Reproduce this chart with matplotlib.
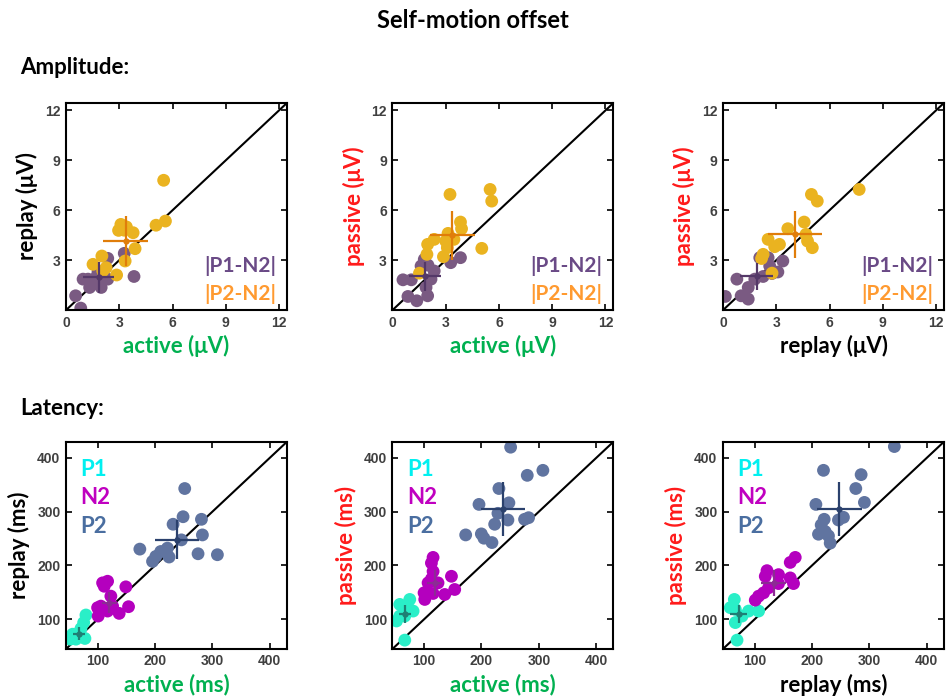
import numpy as np
import matplotlib
matplotlib.use('Agg')
import matplotlib.pyplot as plt

# amplitude offsets (uV), one pair of arrays per panel
amp_labels = [('active', 'replay'), ('active', 'passive'), ('replay', 'passive')]

amp1_p1n2_x = [2.35, 3.28, 3.83, 0.96, 1.24, 1.52, 1.70, 1.98, 1.33, 0.54, 0.83, 1.80, 2.35, 2.0]
amp1_p1n2_y = [3.11, 3.41, 2.02, 1.86, 1.86, 1.56, 1.96, 1.36, 1.36, 0.86, 0.12, 2.27, 1.86, 2.0]
amp1_p2n2_x = [5.5, 5.6, 5.07, 3.09, 2.96, 3.28, 3.78, 3.89, 3.33, 2.02, 1.52, 2.26, 2.07, 2.85, 3.4]
amp1_p2n2_y = [7.8, 5.35, 5.1, 5.15, 4.79, 4.8, 4.65, 3.69, 2.95, 3.25, 2.75, 2.55, 2.35, 2.11, 5.0]

amp2_p1n2_x = [3.83, 3.28, 1.79, 1.61, 2.35, 0.59, 1.06, 2.17, 1.89, 1.98, 0.87, 1.37, 2.0]
amp2_p1n2_y = [3.15, 2.85, 3.05, 2.65, 2.35, 1.82, 1.82, 1.86, 1.36, 0.86, 0.82, 0.56, 2.7]
amp2_p2n2_x = [3.24, 5.5, 5.59, 3.83, 3.89, 3.13, 2.35, 1.98, 3.0, 3.09, 2.87, 1.94, 5.03, 1.52, 3.46]
amp2_p2n2_y = [6.95, 7.25, 6.55, 5.29, 4.89, 4.61, 4.25, 3.95, 4.15, 3.75, 3.21, 3.35, 3.71, 2.22, 4.25]

amp3_p1n2_x = [2.07, 2.54, 3.37, 2.63, 3.09, 2.76, 0.78, 2.26, 1.42, 1.02, 1.42, 0.13, 1.79]
amp3_p1n2_y = [3.15, 3.15, 2.95, 2.65, 2.29, 2.2, 1.86, 2.02, 1.36, 0.86, 0.66, 0.82, 1.86]
amp3_p2n2_x = [4.98, 5.31, 4.57, 3.65, 2.54, 2.91, 3.18, 4.67, 4.76, 5.03, 2.26, 2.17, 2.76, 7.67]
amp3_p2n2_y = [6.95, 6.55, 5.29, 4.89, 4.25, 3.81, 3.95, 4.55, 4.15, 3.75, 3.35, 3.1, 2.22, 7.25]

# mean +- sd crosses: (mx, my, sx, sy)
amp_p1n2_mean = [(1.85, 1.96, 0.88, 0.95), (1.83, 2.02, 0.88, 0.90), (1.89, 2.02, 0.92, 0.80)]
amp_p2n2_mean = [(3.37, 4.15, 1.27, 1.50), (3.37, 4.49, 1.28, 1.47), (4.07, 4.55, 1.53, 1.43)]

# latency (ms)
lat_labels = [('active', 'replay'), ('active', 'passive'), ('replay', 'passive')]

lat1_p1_x = [79.7, 75.7, 71, 56.5, 68, 77.9, 62.3, 52.3]
lat1_p1_y = [108, 93.9, 82.8, 72.3, 75.4, 64.4, 63.1, 63.1]
lat1_n2_x = [108.7, 117.4, 111.5, 149.2, 123.1, 100, 105.7, 126.1, 117.4, 137.6, 153.9, 101]
lat1_n2_y = [167.7, 170.7, 161.4, 160.3, 143, 121.6, 124.5, 124.5, 115.3, 111, 123.4, 106]
lat1_p2_x = [251.8, 248.9, 231.5, 280.9, 282.6, 246, 173.6, 275, 308.7, 221.7, 210, 224.5, 201.4, 195.7]
lat1_p2_y = [343, 290.6, 276.6, 285.8, 256.8, 247.6, 230.4, 221.8, 220, 232.3, 226, 215.7, 216.8, 207.6]

lat2_p1_x = [75.1, 57.7, 80.9, 72.2, 52, 57.7, 66.4, 66.4]
lat2_p1_y = [136.9, 127.7, 115.3, 121.6, 96.9, 106, 106, 61.3]
lat2_n2_x = [115.7, 112.8, 115.7, 112.8, 147.7, 107, 124.3, 153.4, 100, 115.7, 136, 101.2]
lat2_n2_y = [215, 204.6, 189, 175, 179.9, 167.7, 167.7, 155.4, 149.2, 148, 146.1, 136.9]
lat2_p2_x = [250.8, 307, 279.8, 230.4, 195.7, 247.8, 228.7, 246.1, 223, 275.1, 282.1, 172.5, 199.8, 204.3, 218.3]
lat2_p2_y = [419.8, 376.8, 367.5, 343, 313.5, 316.4, 296.9, 284.5, 276.6, 285.8, 288.8, 256.8, 258.7, 250.7, 242.6]

lat3_p1_x = [64.7, 57.7, 66.4, 89.6, 107, 78.1, 66.4, 69.4]
lat3_p1_y = [136.9, 121.6, 118.5, 115.3, 115.3, 106, 93.9, 61.3]
lat3_n2_x = [170.8, 162.1, 121.6, 118.6, 141.7, 162.1, 167.8, 141.7, 124.3, 115.7, 107, 101.2]
lat3_n2_y = [215, 205.7, 190.4, 179.9, 183, 176.9, 166.4, 166.4, 158.5, 149.2, 143, 135.6]
lat3_p2_x = [343.5, 220, 285.6, 276.3, 291.3, 206.8, 254.8, 246.1, 221.2, 216, 211.3, 228.7, 223, 231.7]
lat3_p2_y = [421, 376.8, 368.8, 343, 317.2, 313.5, 289.5, 284.5, 285.8, 275.3, 258.1, 255, 263, 241.5]

lat_p1_mean = [(68, 73.6, 10, 12), (66.4, 109.2, 10, 17), (72.2, 109.2, 15, 17)]
lat_n2_mean = [(120.2, 130.8, 13, 20), (118.6, 167.7, 13, 24), (133, 167.7, 21, 24)]
lat_p2_mean = [(238, 247.6, 38, 36), (237.4, 304.8, 37.7, 50.5), (247.3, 304.8, 39, 50)]

cond_colors = {'active': '#00b050', 'replay': 'black', 'passive': '#ff1a1a'}
label_font = 'Lato'
tick_font = 'Liberation Sans'
msize = 85

fig = plt.figure(figsize=(9.46, 7), dpi=100)

lefts = [0.0698, 0.4149, 0.7643]
w, h = 0.2336, 0.296


def style_axes(ax, lim, ticks, yticks, xcond, ycond, unit):
    ax.plot(lim, lim, color='black', lw=1.5, zorder=1)
    ax.set_xlim(lim)
    ax.set_ylim(lim)
    ax.set_xticks(ticks)
    ax.set_yticks(yticks)
    ax.tick_params(direction='in', top=True, right=True, length=4, width=1.2,
                   labelsize=10, labelcolor='#404040', pad=4)
    for lab in ax.get_xticklabels() + ax.get_yticklabels():
        lab.set_fontfamily(tick_font)
        lab.set_fontweight('bold')
    for sp in ax.spines.values():
        sp.set_linewidth(1.5)
    ax.set_xlabel(f'{xcond} ({unit})', fontsize=16, fontweight='bold',
                  family=label_font, color=cond_colors[xcond], labelpad=4)
    ax.set_ylabel(f'{ycond} ({unit})', fontsize=16, fontweight='bold',
                  family=label_font, color=cond_colors[ycond], labelpad=5)


def cross(ax, m, color):
    mx, my, sx, sy = m
    ax.errorbar(mx, my, xerr=sx, yerr=sy, fmt='o', ms=3.5, color=color,
                elinewidth=1.6, capsize=0, zorder=4)


# amplitude row
amp_p1n2 = [(amp1_p1n2_x, amp1_p1n2_y), (amp2_p1n2_x, amp2_p1n2_y), (amp3_p1n2_x, amp3_p1n2_y)]
amp_p2n2 = [(amp1_p2n2_x, amp1_p2n2_y), (amp2_p2n2_x, amp2_p2n2_y), (amp3_p2n2_x, amp3_p2n2_y)]

for i in range(3):
    ax = fig.add_axes([lefts[i], 0.557, w, h])
    ax.scatter(*amp_p1n2[i], s=msize, color='#7a5a82', edgecolors='none', zorder=2)
    ax.scatter(*amp_p2n2[i], s=msize, color='#eab320', edgecolors='none', zorder=3)
    cross(ax, amp_p1n2_mean[i], '#543868')
    cross(ax, amp_p2n2_mean[i], '#e07d0a')
    style_axes(ax, [0, 12.45], [0, 3, 6, 9, 12], [3, 6, 9, 12],
               amp_labels[i][0], amp_labels[i][1], 'μV')
    ax.text(0.95, 0.215, '|P1-N2|', transform=ax.transAxes, ha='right', va='center',
            fontsize=15, fontweight='bold', family=label_font, color='#6a4a86')
    ax.text(0.95, 0.08, '|P2-N2|', transform=ax.transAxes, ha='right', va='center',
            fontsize=15, fontweight='bold', family=label_font, color='#ff9a30')

# latency row
lat_p1 = [(lat1_p1_x, lat1_p1_y), (lat2_p1_x, lat2_p1_y), (lat3_p1_x, lat3_p1_y)]
lat_n2 = [(lat1_n2_x, lat1_n2_y), (lat2_n2_x, lat2_n2_y), (lat3_n2_x, lat3_n2_y)]
lat_p2 = [(lat1_p2_x, lat1_p2_y), (lat2_p2_x, lat2_p2_y), (lat3_p2_x, lat3_p2_y)]

for i in range(3):
    ax = fig.add_axes([lefts[i], 0.073, w, h])
    ax.scatter(*lat_p1[i], s=msize, color='#2aefc8', edgecolors='none', zorder=2)
    ax.scatter(*lat_n2[i], s=msize, color='#b400be', edgecolors='none', zorder=2)
    ax.scatter(*lat_p2[i], s=msize, color='#6074a0', edgecolors='none', zorder=2)
    cross(ax, lat_p1_mean[i], '#1f7f74')
    cross(ax, lat_n2_mean[i], '#8c2c94')
    cross(ax, lat_p2_mean[i], '#2b416d')
    style_axes(ax, [45, 430], [100, 200, 300, 400], [100, 200, 300, 400],
               lat_labels[i][0], lat_labels[i][1], 'ms')
    for txt, yy, c in [('P1', 0.865, '#00f0f0'), ('N2', 0.73, '#c000c0'), ('P2', 0.59, '#4a6ea0')]:
        ax.text(0.065, yy, txt, transform=ax.transAxes, ha='left', va='center',
                fontsize=16, fontweight='bold', family=label_font, color=c)

fig.text(0.5, 0.971, 'Self-motion offset', ha='center', va='center',
         fontsize=17, fontweight='bold', family=label_font)
fig.text(0.021, 0.903, 'Amplitude:', ha='left', va='center',
         fontsize=16, fontweight='bold', family=label_font)
fig.text(0.021, 0.417, 'Latency:', ha='left', va='center',
         fontsize=16, fontweight='bold', family=label_font)

fig.savefig('out.png', dpi=100)
